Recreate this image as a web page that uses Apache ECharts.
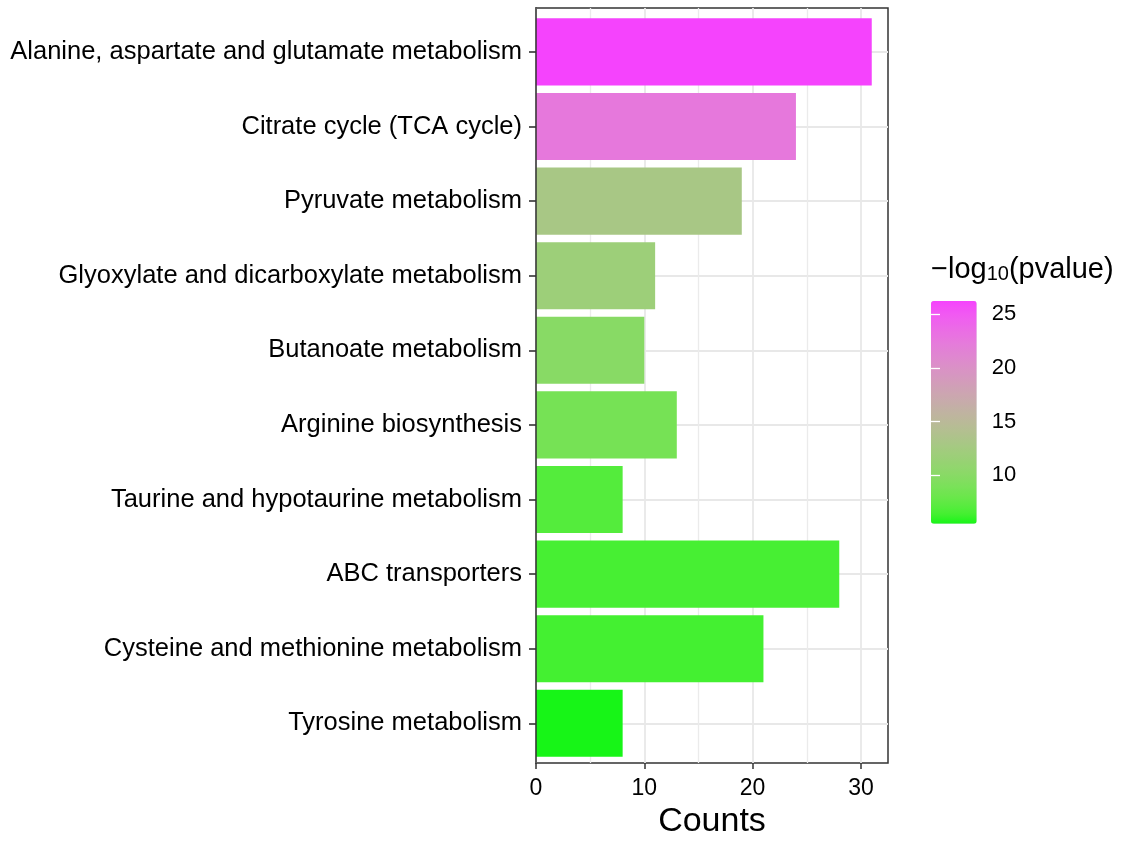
<!DOCTYPE html>
<html>
<head>
<meta charset="utf-8">
<script src="https://cdn.jsdelivr.net/npm/echarts@6/dist/echarts.min.js"></script>
<style>
html,body{margin:0;padding:0;background:#fff;}
#main{width:1131px;height:844px;}
</style>
</head>
<body>
<div id="main"></div>
<script>
// ---- data ----
const pathways = [
  'Alanine, aspartate and glutamate metabolism',
  'Citrate cycle (TCA cycle)',
  'Pyruvate metabolism',
  'Glyoxylate and dicarboxylate metabolism',
  'Butanoate metabolism',
  'Arginine biosynthesis',
  'Taurine and hypotaurine metabolism',
  'ABC transporters',
  'Cysteine and methionine metabolism',
  'Tyrosine metabolism'
];
const counts = [31, 24, 19, 11, 10, 13, 8, 28, 21, 8];
const negLog10P = [26.25, 22.5, 13.0, 11.8, 10.0, 8.7, 7.0, 6.5, 6.4, 5.5];
const xTicks = [0, 10, 20, 30];
const legendTicks = [10, 15, 20, 25];

// ---- colour ramp (CIELAB interpolation, as ggplot does) ----
const lowColor = '#17F517', highColor = '#F543FD';
function hex2rgb(h){return [1,3,5].map(i=>parseInt(h.substr(i,2),16));}
function s2l(c){c/=255;return c<=0.04045?c/12.92:Math.pow((c+0.055)/1.055,2.4);}
function l2s(c){c=c<=0.0031308?12.92*c:1.055*Math.pow(c,1/2.4)-0.055;return Math.round(Math.max(0,Math.min(1,c))*255);}
function rgb2lab(rgb){
  const [r,g,b]=rgb.map(s2l);
  let X=(0.4124*r+0.3576*g+0.1805*b)/0.95047, Y=0.2126*r+0.7152*g+0.0722*b, Z=(0.0193*r+0.1192*g+0.9505*b)/1.08883;
  const f=t=>t>0.008856?Math.cbrt(t):7.787*t+16/116;
  const fx=f(X),fy=f(Y),fz=f(Z);
  return [116*fy-16,500*(fx-fy),200*(fy-fz)];
}
function lab2hex(lab){
  const fy=(lab[0]+16)/116, fx=fy+lab[1]/500, fz=fy-lab[2]/200;
  const fi=f=>{const f3=f*f*f;return f3>0.008856?f3:(f-16/116)/7.787;};
  const X=fi(fx)*0.95047, Y=fi(fy), Z=fi(fz)*1.08883;
  const r=3.2406*X-1.5372*Y-0.4986*Z, g=-0.9689*X+1.8758*Y+0.0415*Z, b=0.0557*X-0.2040*Y+1.0570*Z;
  return '#'+[r,g,b].map(v=>l2s(v).toString(16).padStart(2,'0')).join('');
}
const labLo=rgb2lab(hex2rgb(lowColor)), labHi=rgb2lab(hex2rgb(highColor));
const ramp=[];
for(let k=0;k<=24;k++){const t=k/24;ramp.push(lab2hex(labLo.map((v,i)=>v+(labHi[i]-v)*t)));}

const FONT='Liberation Sans, Arial, sans-serif';
const xMax = 32.5;
const pMin = 5.5, pMax = 26.25;

const chart = echarts.init(document.getElementById('main'), null, {renderer:'canvas'});
chart.setOption({
  backgroundColor:'#fff',
  animation:false,
  title:{
    text:'{a|−log}{b|10}{a|(pvalue)}',
    left:926, top:250,
    textStyle:{fontWeight:'normal', rich:{
      a:{fontSize:29,fontFamily:FONT,fontWeight:'normal',color:'#000',verticalAlign:'bottom'},
      b:{fontSize:20,fontFamily:FONT,fontWeight:'normal',color:'#000',verticalAlign:'bottom',lineHeight:12}
    }}
  },
  grid:[
    {left:536, right:243, top:8, bottom:78, show:true, borderColor:'#333', borderWidth:1.5, backgroundColor:'transparent'},
    {left:536, right:243, top:14.6, bottom:83.4},
    {left:931, top:301, width:45.7, height:222.7}
  ],
  xAxis:[
    {gridIndex:0, type:'value', min:0, max:xMax, interval:10,
     axisLine:{show:false},
     axisTick:{show:true, length:6, lineStyle:{color:'#333', width:1.5}, customValues:xTicks},
     axisLabel:{fontSize:23, fontFamily:FONT, color:'#000', margin:14, customValues:xTicks},
     splitLine:{show:true, lineStyle:{color:'#e8e8e8', width:1.8}},
     minorTick:{show:false, splitNumber:2},
     minorSplitLine:{show:true, lineStyle:{color:'#ebebeb', width:1.3}},
     name:'Counts', nameLocation:'middle', nameGap:41,
     nameTextStyle:{fontSize:34, fontFamily:FONT, color:'#000'}
    },
    {gridIndex:1, type:'value', min:0, max:xMax, show:false},
    {gridIndex:2, type:'value', show:false}
  ],
  yAxis:[
    {gridIndex:0, type:'value', min:0, max:1, z:5,
     axisLine:{show:true, lineStyle:{color:'#333', width:1.5}},
     axisTick:{show:false}, axisLabel:{show:false}, splitLine:{show:false}},
    {gridIndex:1, type:'category', data:pathways, inverse:true,
     axisLine:{show:false},
     axisTick:{show:true, alignWithLabel:true, length:7, lineStyle:{color:'#333', width:1.6}},
     axisLabel:{fontSize:25.5, fontFamily:FONT, color:'#000', margin:14},
     splitLine:{show:true, alignWithLabel:true, lineStyle:{color:'#e8e8e8', width:1.8}}
    },
    {gridIndex:2, type:'value', min:pMin, max:pMax, position:'right', z:10,
     axisLine:{show:false},
     axisTick:{show:true, inside:true, length:9, lineStyle:{color:'#fff', width:1.3}, customValues:legendTicks},
     axisLabel:{fontSize:22, fontFamily:FONT, color:'#000', margin:15, customValues:legendTicks},
     splitLine:{show:false}
    },
    {gridIndex:2, type:'value', min:pMin, max:pMax, position:'left', z:10,
     axisLine:{show:false},
     axisTick:{show:true, inside:true, length:9, lineStyle:{color:'#fff', width:1.3}, customValues:legendTicks},
     axisLabel:{show:false},
     splitLine:{show:false}
    }
  ],
  visualMap:{
    type:'continuous', seriesIndex:0, dimension:2,
    min:pMin, max:pMax, left:926, top:296,
    itemWidth:45.7, itemHeight:222.7, calculable:false, text:null,
    inRange:{color:ramp}, padding:5
  },
  series:[{
    type:'bar', xAxisIndex:1, yAxisIndex:1,
    barWidth:'90%',
    encode:{x:0, y:1},
    data:pathways.map((p,i)=>[counts[i], p, negLog10P[i]])
  }]
});
</script>
</body>
</html>
